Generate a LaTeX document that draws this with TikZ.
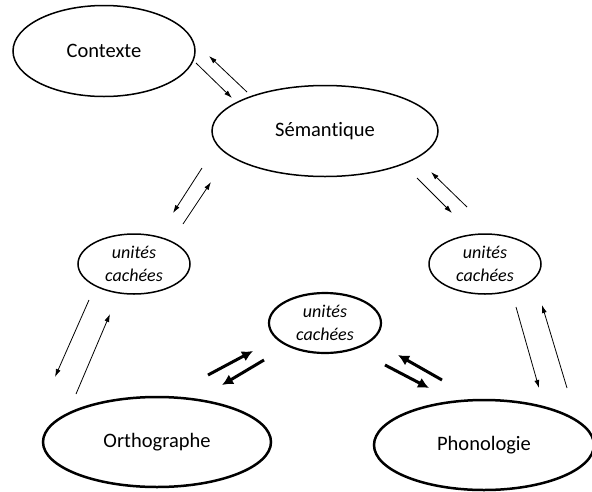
\documentclass[tikz,border=0pt]{standalone}
\usepackage{fontspec}
\setmainfont{Carlito}[Ligatures=NoCommon]
\usetikzlibrary{arrows.meta,shapes.geometric}
\begin{document}
\begin{tikzpicture}[x=1pt,y=-1pt,
  bigfont/.style={font=\fontsize{20.5}{24}\selectfont},
  layer/.style={draw, ellipse, inner sep=0pt, line width=1.5pt, bigfont},
  hidden/.style={draw, ellipse, inner sep=0pt, line width=1.5pt,
    minimum width=112pt, minimum height=60pt},
  hiddentext/.style={align=center, font=\fontsize{18}{23}\selectfont\itshape},
  thin/.style={line width=0.8pt, -{Latex[length=8pt,width=5pt]}},
  thick/.style={line width=3pt, -{Latex[length=11pt,width=11pt]}}]
\useasboundingbox (0,0) rectangle (592,491);

% layers of the model
\node[layer, minimum width=182pt, minimum height=91pt] (ctx) at (104,51) {Contexte};
\node[layer, minimum width=226pt, minimum height=91pt] (sem) at (325,131) {Sémantique};
\node[layer, line width=2.5pt, minimum width=228pt, minimum height=90pt] (ort) at (157,442) {Orthographe};
\node[layer, line width=2.5pt, minimum width=220pt, minimum height=90pt] (pho) at (484,445) {Phonologie};

% hidden units
\node[hidden, label={[hiddentext]center:unités\\cachées}] (hl) at (134,264) {};
\node[hidden, label={[hiddentext]center:unités\\cachées}] (hr) at (485,264) {};
\node[hidden, line width=2.2pt, label={[hiddentext]center:unités\\cachées}] (hc) at (325,323) {};

% arrow end points
\coordinate (a1s) at (196,63);  \coordinate (a1e) at (232,98);
\coordinate (a2s) at (247,92);  \coordinate (a2e) at (209,56);
\coordinate (a3s) at (202,168); \coordinate (a3e) at (173,213);
\coordinate (a4s) at (183,224); \coordinate (a4e) at (211,182);
\coordinate (a5s) at (417,178); \coordinate (a5e) at (452,213);
\coordinate (a6s) at (467,207); \coordinate (a6e) at (431,172);
\coordinate (a7s) at (89,300);  \coordinate (a7e) at (55,377);
\coordinate (a8s) at (76,394);  \coordinate (a8e) at (110,314);
\coordinate (a9s) at (208,375); \coordinate (a9e) at (253,351);
\coordinate (a10s) at (264,360); \coordinate (a10e) at (222,385);
\coordinate (a11s) at (385,365); \coordinate (a11e) at (429,388);
\coordinate (a12s) at (442,380); \coordinate (a12e) at (398,355);
\coordinate (a13s) at (516,307); \coordinate (a13e) at (539,388);
\coordinate (a14s) at (567,388); \coordinate (a14e) at (542,305);

% connections
\draw[thin] (a1s) -- (a1e);
\draw[thin] (a2s) -- (a2e);
\draw[thin] (a3s) -- (a3e);
\draw[thin] (a4s) -- (a4e);
\draw[thin] (a5s) -- (a5e);
\draw[thin] (a6s) -- (a6e);
\draw[thin] (a7s) -- (a7e);
\draw[thin] (a8s) -- (a8e);
\draw[thick] (a9s) -- (a9e);
\draw[thick] (a10s) -- (a10e);
\draw[thick] (a11s) -- (a11e);
\draw[thick] (a12s) -- (a12e);
\draw[thin] (a13s) -- (a13e);
\draw[thin] (a14s) -- (a14e);
\end{tikzpicture}
\end{document}
